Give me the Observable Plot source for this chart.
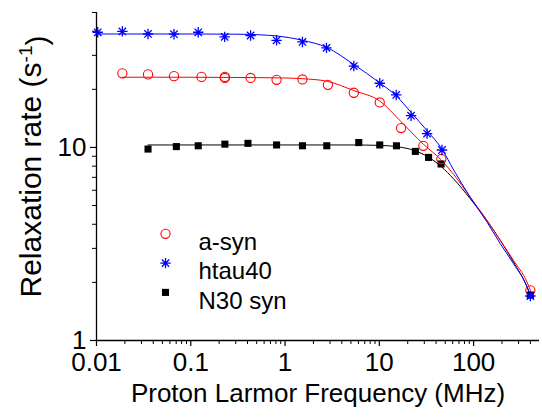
<!DOCTYPE html>
<html>
<head>
<meta charset="utf-8">
<script src="https://cdn.jsdelivr.net/npm/d3@7"></script>
<script src="https://cdn.jsdelivr.net/npm/@observablehq/plot@0.6"></script>
<style>
  html, body { margin: 0; padding: 0; background: #fff; }
  #chart { width: 542px; height: 418px; }
</style>
</head>
<body>
<div id="chart"></div>
<script>
// ---- Data ----
const seriesNames = ["a-syn", "htau40", "N30 syn"];
const seriesColors = ["#ff0000", "#0000ff", "#000000"];

// measured points: a-syn (open red circles)
const freqASyn = [0.0188, 0.0352, 0.0664, 0.13, 0.23, 0.23, 0.431, 0.813, 1.53, 2.85, 5.36, 10.1, 17.0, 29.3, 45.5, 400];
const rateASyn = [24.2, 23.9, 23.4, 23.2, 23.2, 22.9, 22.9, 22.4, 22.5, 21.1, 19.2, 17.1, 12.6, 10.2, 8.71, 1.82];

// measured points: htau40 (blue asterisks)
const freqTau = [0.0103, 0.0188, 0.0352, 0.0664, 0.12, 0.229, 0.431, 0.813, 1.53, 2.75, 5.36, 10.1, 15.1, 21.7, 32.1, 46.2, 400];
const rateTau = [39.5, 39.9, 38.7, 38.6, 39.5, 37.4, 38.0, 35.9, 35.2, 32.8, 26.4, 21.5, 18.7, 14.6, 11.8, 9.7, 1.70];

// measured points: N30 syn (black squares)
const freqN30 = [0.0352, 0.0703, 0.12, 0.23, 0.404, 0.813, 1.53, 2.77, 6.05, 10.1, 15.2, 24.1, 33.3, 45.2, 400];
const rateN30 = [9.81, 10.1, 10.2, 10.4, 10.5, 10.3, 10.2, 10.2, 10.6, 10.3, 10.2, 9.54, 8.88, 8.21, 1.72];

// fitted curves
const fitFreqASyn = [0.0188, 0.1, 0.5, 1.0, 1.53, 2.8, 5.36, 10.1, 17.0, 29.3, 45.5, 61.4, 92.2, 139, 192, 265, 368, 400];
const fitRateASyn = [23.1, 23.1, 23.0, 22.9, 22.7, 22.0, 19.7, 17.4, 13.6, 10.4, 8.6, 7.25, 5.52, 4.18, 3.30, 2.60, 2.01, 1.82];

const fitFreqTau = [0.0103, 0.1, 0.3, 0.55, 0.81, 1.53, 2.75, 5.36, 10.1, 15.1, 21.7, 32.1, 46.2, 61.4, 92.2, 139, 192, 265, 368, 400];
const fitRateTau = [38.7, 38.7, 38.6, 38.3, 37.8, 35.9, 33.0, 26.9, 21.6, 18.5, 15.2, 12.2, 9.8, 7.65, 5.52, 4.10, 3.17, 2.50, 1.90, 1.70];

const fitFreqN30 = [0.0352, 0.1, 1, 5, 10, 15.2, 24.1, 33.3, 45.5, 61.4, 92.2, 139, 192, 265, 368, 400];
const fitRateN30 = [10.3, 10.3, 10.3, 10.3, 10.25, 10.1, 9.6, 8.9, 7.95, 6.87, 5.42, 4.18, 3.30, 2.55, 1.90, 1.72];

// axes
const xDomain = [0.01, 500];
const yDomain = [1, 50];
const xTicksMajor = [0.01, 0.1, 1, 10, 100];
const xTickLabels = ["0.01", "0.1", "1", "10", "100"];
const xTicksMinor = [0.02, 0.03, 0.04, 0.05, 0.06, 0.07, 0.08, 0.09,
                     0.2, 0.3, 0.4, 0.5, 0.6, 0.7, 0.8, 0.9,
                     2, 3, 4, 5, 6, 7, 8, 9,
                     20, 30, 40, 50, 60, 70, 80, 90,
                     200, 300, 400];
const yTicksMajor = [1, 10];
const yTickLabels = ["1", "10"];
const yTicksMinor = [2, 3, 4, 5, 6, 7, 8, 9, 20, 30, 40, 50];
const xTitle = "Proton Larmor Frequency (MHz)";
const yTitle = "Relaxation rate (s";
const yTitleSup = "-1";
const yTitleEnd = ")";

// ---- build tables ----
const toRows = (fs, rs) => fs.map((f, i) => ({f, r: rs[i]}));
const ptsASyn = toRows(freqASyn, rateASyn);
const ptsTau = toRows(freqTau, rateTau);
const ptsN30 = toRows(freqN30, rateN30);
const fitASyn = toRows(fitFreqASyn, fitRateASyn);
const fitTau = toRows(fitFreqTau, fitRateTau);
const fitN30 = toRows(fitFreqN30, fitRateN30);

// 8-armed asterisk symbol (Origin style "star")
const asterisk8 = {
  draw(context, size) {
    const r = Math.sqrt(size / Math.PI);
    const d = r * Math.SQRT1_2;
    context.moveTo(-r, 0); context.lineTo(r, 0);
    context.moveTo(0, -r); context.lineTo(0, r);
    context.moveTo(-d, -d); context.lineTo(d, d);
    context.moveTo(-d, d); context.lineTo(d, -d);
  }
};

const FONT = "'Liberation Sans', Arial, Helvetica, sans-serif";
const symStyles = [
  {symbol: "circle", r: 4.6, stroke: seriesColors[0], fill: "none", strokeWidth: 1.1},
  {symbol: asterisk8, r: 5.2, stroke: seriesColors[1], fill: "none", strokeWidth: 1.3},
  {symbol: "square", r: 4.0, fill: seriesColors[2], stroke: "none"}
];

const legendMarks = [];
seriesNames.forEach((name, i) => {
  legendMarks.push(Plot.dot([name], {frameAnchor: "top-left", dx: 69, dy: 221.3 + i * 29.3, ...symStyles[i]}));
  legendMarks.push(Plot.text([name], {text: d => d, frameAnchor: "top-left", dx: 102, dy: 220.5 + i * 29.3,
    textAnchor: "start", fontSize: 24, fill: "#000"}));
});

const xLabelOf = d => xTickLabels[xTicksMajor.indexOf(d)];
const yLabelOf = d => yTickLabels[yTicksMajor.indexOf(d)];

const chart = Plot.plot({
  width: 542,
  height: 418,
  marginLeft: 96,
  marginRight: 3,
  marginTop: 12,
  marginBottom: 78,
  style: {fontFamily: FONT, fontSize: "24px", color: "#000", background: "#fff"},
  x: {type: "log", domain: xDomain},
  y: {type: "log", domain: yDomain},
  marks: [
    Plot.axisX({ticks: xTicksMinor, tickSize: 4, tickFormat: () => "", label: null, strokeWidth: 1}),
    Plot.axisX({ticks: xTicksMajor, tickSize: 6, tickPadding: 6, tickFormat: xLabelOf,
      label: null, fontSize: 26, strokeWidth: 1.2}),
    Plot.axisY({ticks: yTicksMinor, tickSize: 4, tickFormat: () => "", label: null, strokeWidth: 1}),
    Plot.axisY({ticks: yTicksMajor, tickSize: 6, tickPadding: 4, tickFormat: yLabelOf,
      label: null, fontSize: 26, strokeWidth: 1.2}),
    Plot.ruleY([yDomain[0]], {stroke: "#000", strokeWidth: 1.3}),
    Plot.ruleX([xDomain[0]], {stroke: "#000", strokeWidth: 1.3}),
    Plot.line(fitN30, {x: "f", y: "r", stroke: seriesColors[2], strokeWidth: 1, curve: "monotone-x"}),
    Plot.line(fitASyn, {x: "f", y: "r", stroke: seriesColors[0], strokeWidth: 1, curve: "monotone-x"}),
    Plot.line(fitTau, {x: "f", y: "r", stroke: seriesColors[1], strokeWidth: 1, curve: "monotone-x"}),
    Plot.dot(ptsN30, {x: "f", y: "r", ...symStyles[2]}),
    Plot.dot(ptsASyn, {x: "f", y: "r", ...symStyles[0]}),
    Plot.dot(ptsTau, {x: "f", y: "r", ...symStyles[1]}),
    ...legendMarks,
    Plot.text([xTitle], {text: d => d, frameAnchor: "bottom", dy: 61, textAnchor: "middle", fontSize: 26, fill: "#000"}),
    Plot.text([yTitle], {text: d => d, frameAnchor: "left", dx: -65, dy: -10, rotate: -90, textAnchor: "middle", fontSize: 30, fill: "#000"})
  ]
});

document.getElementById("chart").appendChild(chart);

// superscript for the y title
d3.select(chart).selectAll("text").each(function() {
  if (this.textContent === yTitle) {
    const t = d3.select(this);
    t.text(null);
    t.append("tspan").text(yTitle);
    t.append("tspan").attr("dy", "-0.5em").attr("font-size", "19px").text(yTitleSup);
    t.append("tspan").attr("dy", "0.5em").text(yTitleEnd);
  }
});
</script>
</body>
</html>
